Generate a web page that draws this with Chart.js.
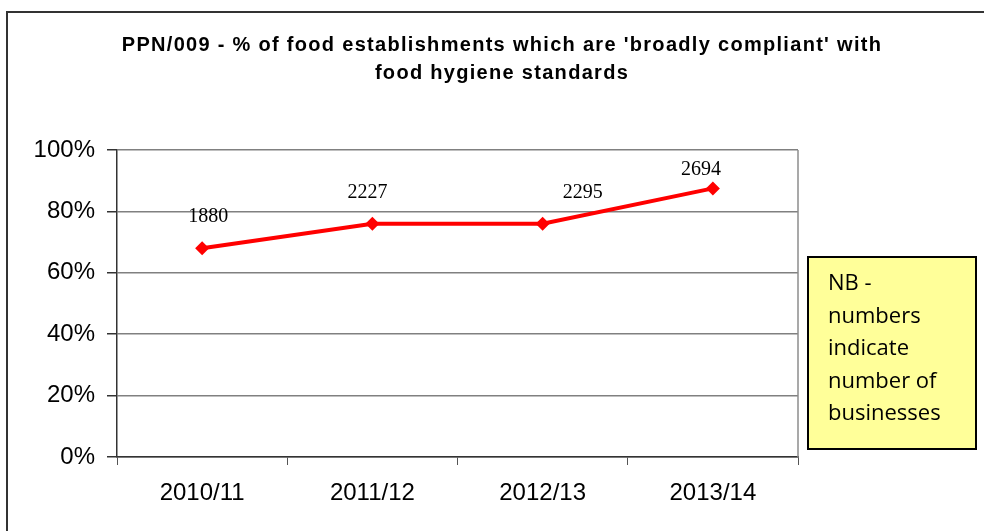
<!DOCTYPE html>
<html>
<head>
<meta charset="utf-8">
<script src="https://cdn.jsdelivr.net/npm/chart.js@4.4.0/dist/chart.umd.min.js"></script>
<style>
  html, body { margin: 0; padding: 0; background: #ffffff; }
  #wrap { width: 984px; height: 531px; position: relative; }
</style>
</head>
<body>
<div id="wrap"><canvas id="c" width="984" height="531"></canvas></div>
<script>
// ---- data ----
const categories = ['2010/11', '2011/12', '2012/13', '2013/14'];
const compliancePct = [68, 76, 76, 87.5];
const businessCounts = ['1880', '2227', '2295', '2694'];
const yTicks = [0, 20, 40, 60, 80, 100];
const titleLines = ["PPN/009 - % of food establishments which are 'broadly compliant' with", 'food hygiene standards'];
const noteLines = ['NB -', 'numbers', 'indicate', 'number of', 'businesses'];

// label offsets (dx, dy) relative to each point, in pixels
const labelOffsets = [[6, -31], [-5, -31], [40, -31], [-12, -19]];

const decorPlugin = {
  id: 'decor',
  beforeDraw(chart) {
    const ctx = chart.ctx;
    ctx.save();
    ctx.fillStyle = '#ffffff';
    ctx.fillRect(0, 0, chart.width, chart.height);
    // outer frame
    ctx.strokeStyle = '#333333';
    ctx.lineWidth = 2;
    ctx.beginPath();
    ctx.moveTo(7, chart.height + 5);
    ctx.lineTo(7, 12);
    ctx.lineTo(chart.width + 5, 12);
    ctx.stroke();
    // title
    ctx.fillStyle = '#000000';
    ctx.font = 'bold 20px "Liberation Sans", Arial, sans-serif';
    if ('letterSpacing' in ctx) ctx.letterSpacing = '1.3px';
    ctx.textAlign = 'center';
    ctx.textBaseline = 'middle';
    ctx.fillText(titleLines[0], 502, 45);
    ctx.fillText(titleLines[1], 502, 73);
    ctx.restore();
  },
  afterDatasetsDraw(chart) {
    const ctx = chart.ctx;
    const area = chart.chartArea;
    ctx.save();
    // plot right border
    ctx.strokeStyle = '#8c8c8c';
    ctx.lineWidth = 1.5;
    ctx.beginPath();
    ctx.moveTo(area.right, area.top);
    ctx.lineTo(area.right, area.bottom);
    ctx.stroke();
    // data labels
    const meta = chart.getDatasetMeta(0);
    ctx.fillStyle = '#000000';
    ctx.font = '20px "Liberation Serif", "Times New Roman", serif';
    ctx.textAlign = 'center';
    ctx.textBaseline = 'middle';
    meta.data.forEach((pt, i) => {
      const off = labelOffsets[i];
      ctx.fillText(businessCounts[i], pt.x + off[0], pt.y + off[1]);
    });
    // note box
    const bx = area.right + 10, by = 257, bw = 168, bh = 192;
    ctx.fillStyle = '#ffff99';
    ctx.fillRect(bx, by, bw, bh);
    ctx.strokeStyle = '#000000';
    ctx.lineWidth = 2;
    ctx.strokeRect(bx, by, bw, bh);
    ctx.fillStyle = '#000000';
    ctx.font = '22px "Open Sans", "Noto Sans", sans-serif';
    ctx.textAlign = 'left';
    ctx.textBaseline = 'middle';
    noteLines.forEach((t, i) => {
      ctx.fillText(t, bx + 20, by + 27 + i * 32.5);
    });
    ctx.restore();
  }
};

new Chart(document.getElementById('c'), {
  type: 'line',
  data: {
    labels: categories,
    datasets: [{
      data: compliancePct,
      borderColor: '#ff0000',
      backgroundColor: '#ff0000',
      borderWidth: 4,
      pointStyle: 'rectRot',
      pointRadius: 7,
      pointHoverRadius: 7,
      pointBorderWidth: 0,
      tension: 0,
      fill: false
    }]
  },
  options: {
    responsive: false,
    animation: false,
    devicePixelRatio: 1,
    layout: { padding: { left: 0, right: 186, top: 150, bottom: 0 } },
    plugins: {
      legend: { display: false },
      title: { display: false },
      tooltip: { enabled: false }
    },
    scales: {
      x: {
        type: 'category',
        offset: true,
        grid: { display: true, offset: true, drawOnChartArea: false, drawTicks: true, tickLength: 8, color: '#555555' },
        border: { display: true, color: '#333333', width: 1.5 },
        ticks: { color: '#000000', font: { family: '"Liberation Sans", Arial, sans-serif', size: 24 }, padding: 14, maxRotation: 0 },
        afterFit(scale) { scale.height = 74; }
      },
      y: {
        min: 0,
        max: 100,
        afterBuildTicks(scale) { scale.ticks = yTicks.map(v => ({ value: v })); },
        grid: { color: '#808080', lineWidth: 1.5, tickLength: 10, tickColor: '#333333', drawTicks: true },
        border: { display: true, color: '#333333', width: 1.5 },
        ticks: { color: '#000000', font: { family: '"Liberation Sans", Arial, sans-serif', size: 24 }, padding: 12, callback: v => v + '%' },
        afterFit(scale) { scale.width = 117; }
      }
    }
  },
  plugins: [decorPlugin]
});
</script>
</body>
</html>
